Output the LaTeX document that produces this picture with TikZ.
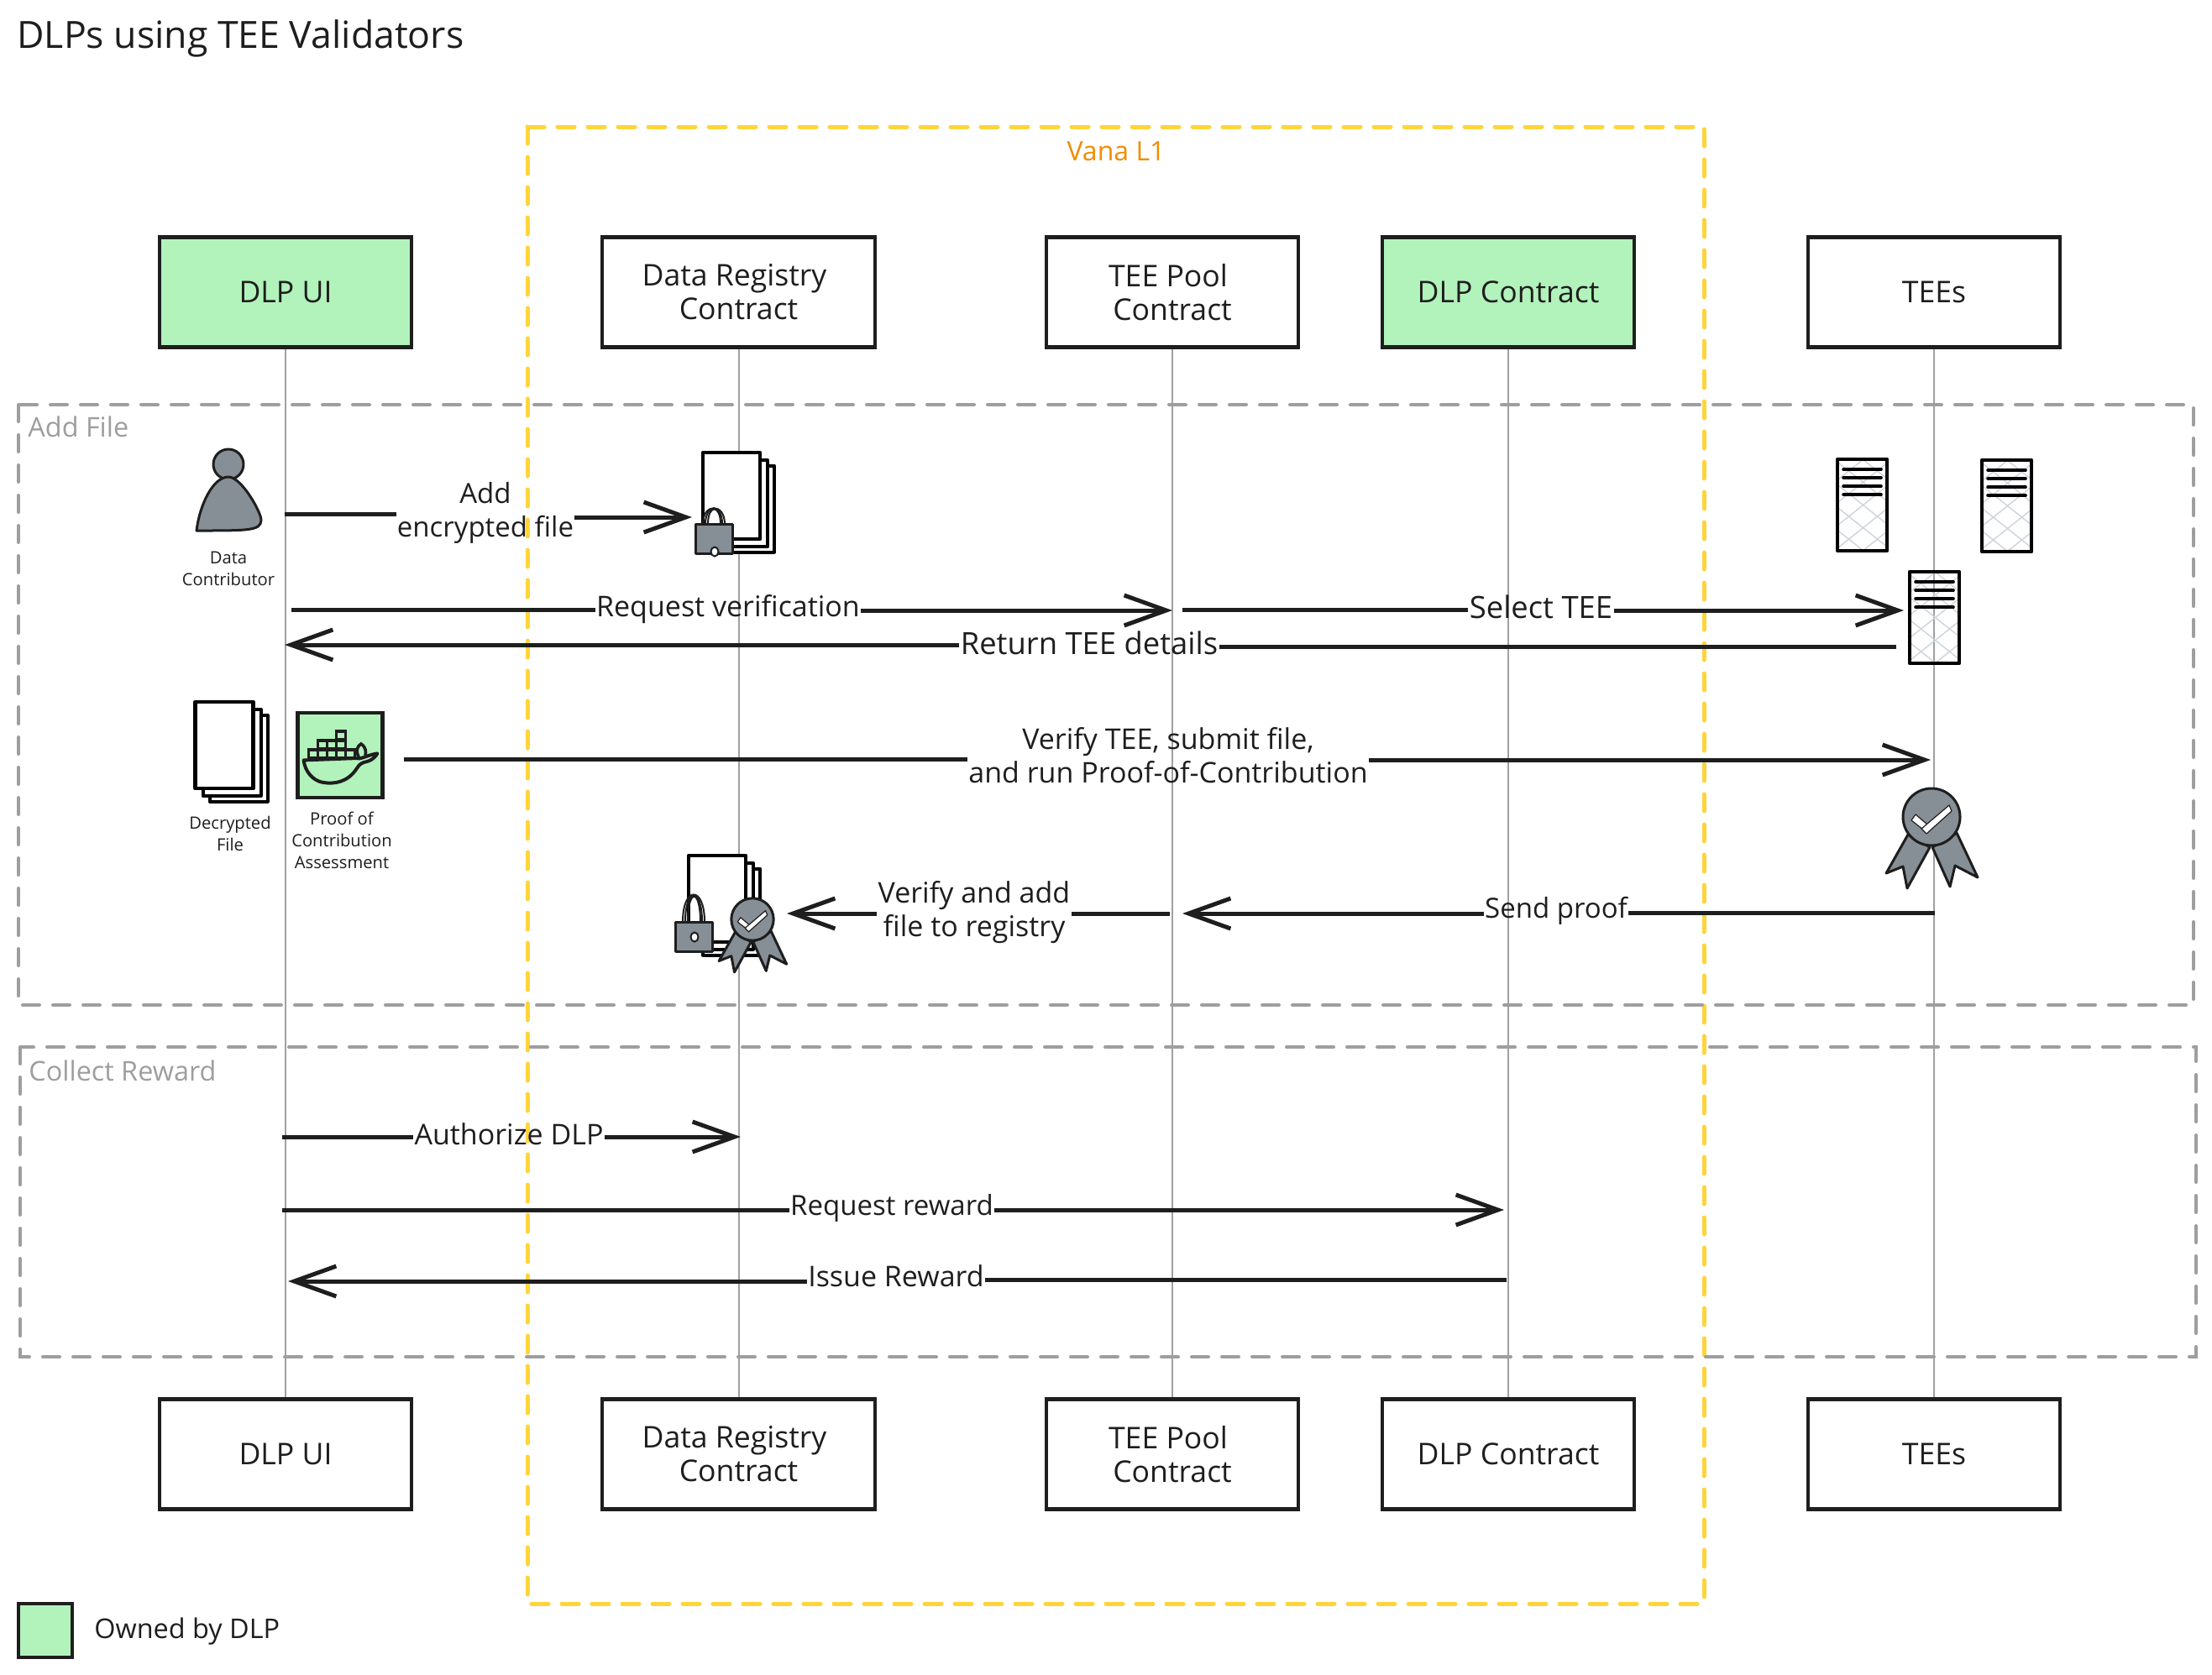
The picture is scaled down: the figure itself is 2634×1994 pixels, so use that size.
\documentclass[tikz,border=0pt]{standalone}
\usepackage{fontspec}
\setmainfont{Open Sans}
\usetikzlibrary{arrows.meta}
\definecolor{ink}{HTML}{1E1E1E}
\definecolor{leaf}{HTML}{B2F2BB}
\definecolor{steel}{HTML}{868E96}
\definecolor{gridgrey}{HTML}{CED4DA}
\definecolor{lifegrey}{HTML}{A0A0A0}
\definecolor{zonegrey}{HTML}{9E9E9E}
\definecolor{vana}{HTML}{FFD43B}
\definecolor{vanatext}{HTML}{F08C00}
\tikzset{
  actor/.style={draw=ink,line width=2.2pt,fill=white,minimum height=65.5pt,inner sep=0pt,align=center,text=ink,font=\fontsize{17.8}{20}\selectfont},
  narrow/.style={actor,minimum width=150pt},
  wide/.style={actor,minimum width=162.5pt},
  owned/.style={fill=leaf},
  lifeline/.style={draw=lifegrey,line width=1pt},
  zone/.style={draw=zonegrey,line width=2pt,dash pattern=on 10pt off 8pt,line cap=round},
  vanazone/.style={draw=vana,line width=2.5pt,dash pattern=on 10pt off 8pt,line cap=round},
  zonelabel/.style={text=zonegrey,inner sep=0pt,font=\fontsize{16.2}{20}\selectfont},
  msglabel/.style={text=ink,inner ysep=0pt,inner xsep=0.5pt,align=center,font=\fontsize{17}{20}\selectfont},
  msglabelsmall/.style={msglabel,font=\fontsize{16.5}{20}\selectfont},
  msglabelwide/.style={msglabel,font=\fontsize{18.2}{20}\selectfont},
  smalllabel/.style={text=ink,inner sep=0pt,align=center,font=\fontsize{10.1}{13}\selectfont},
  msg/.style={draw=ink,line width=2.5pt},
  msgtip/.style={msg,-{Straight Barb[length=25pt,width=18pt]}},
  sheet/.style={draw=black,fill=white,line width=2pt,line join=round},
  iconline/.style={draw=ink,line width=1.5pt,line join=round,fill=steel}
}
\newcommand{\drawstack}[4]{% x y of front top-left, w h
  \begin{scope}[shift={(#1,#2)}]
    \draw[sheet] (17,15.5) rectangle ++(#3,#4);
    \draw[sheet] (9,9) rectangle ++(#3,#4);
    \draw[sheet,line width=2.3pt] (0,0) rectangle ++(#3,#4);
  \end{scope}}
\newcommand{\drawlock}[5]{% x y shackle-height keyhole-x keyhole-y
  \begin{scope}[shift={(#1,#2)}]
    \draw[draw=ink,line width=1pt] (9,0) .. controls (9,-#3*1.4) and (35,-#3*1.4) .. (35,0);
    \draw[draw=ink,line width=1pt] (12,0) .. controls (12,-#3*1.35) and (32,-#3*1.35) .. (32,0);
    \draw[draw=ink,line width=1pt] (15,0) .. controls (15,-#3*1.3) and (30,-#3*1.3) .. (30,0);
    \draw[iconline,fill=steel] (0,0) rectangle (44,35);
    \draw[draw=ink,line width=1pt,fill=white] (#4,#5) circle[x radius=4.5,y radius=5.5];
  \end{scope}}
\newcommand{\drawbadge}[3]{% cx cy scale
  \begin{scope}[shift={(#1,#2)},scale=#3]
    \draw[iconline] (-28,21) -- (-54,67) -- (-34,59) -- (-29,85) -- (-2,36) -- cycle;
    \draw[iconline] (30,19) -- (55,72) -- (28,58) -- (22,83) -- (1,36) -- cycle;
    \draw[iconline] (0,0) circle[radius=34];
    \draw[draw=ink,fill=white,line width=0.6pt,line join=round] (-24,4) -- (-19,-3) -- (-5,9) -- (-10,15) -- cycle;
    \draw[draw=ink,fill=white,line width=0.6pt,line join=round] (-12,14) -- (21,-14) -- (24,-7) -- (-6,20) -- cycle;
  \end{scope}}
\newcommand{\drawserver}[2]{%
  \begin{scope}[shift={(#1,#2)}]
    \begin{scope}
      \clip (0,0) rectangle (59,109);
      \foreach \k in {-140,-106,...,60} {
        \draw[gridgrey,line width=0.7pt] (\k,0) -- ++(137,109);
        \draw[gridgrey,line width=0.7pt] (\k+137,0) -- ++(-137,109);
      }
    \end{scope}
    \foreach \s in {12,22,32,42} {\draw[black,line width=1.8pt,line cap=round] (7,\s) -- (52,\s);}
    \draw[draw=black,line width=2.2pt,line join=round] (0,0) rectangle (59,109);
  \end{scope}}
\begin{document}
\begin{tikzpicture}[x=0.5pt,y=-0.5pt]
\path[use as bounding box,fill=white] (0,0) rectangle (2634,1994);

% title and legend
\node[anchor=west,inner sep=0pt,text=ink,font=\fontsize{22.3}{28}\selectfont] (title) at (20,46) {DLPs using TEE Validators};
\node[draw=ink,line width=2.2pt,fill=leaf,minimum width=32pt,minimum height=32pt,inner sep=0pt] (legendbox) at (54,1942) {};
\node[anchor=west,inner sep=0pt,text=ink,font=\fontsize{16.2}{20}\selectfont] (legendtext) at (112,1943) {Owned by DLP};

% actors
\node[narrow,owned] (uiT) at (340,348) {DLP UI};
\node[wide] (regT) at (879.5,348) {Data Registry\hspace*{5pt}\\Contract};
\node[narrow] (poolT) at (1396,348) {TEE Pool\hspace*{5pt}\\Contract};
\node[narrow,owned] (dlpT) at (1796,348) {DLP Contract};
\node[narrow] (teeT) at (2303,348) {TEEs};
\node[narrow] (uiB) at (340,1732) {DLP UI};
\node[wide] (regB) at (879.5,1732) {Data Registry\hspace*{5pt}\\Contract};
\node[narrow] (poolB) at (1396,1732) {TEE Pool\hspace*{5pt}\\Contract};
\node[narrow] (dlpB) at (1796,1732) {DLP Contract};
\node[narrow] (teeB) at (2303,1732) {TEEs};

% lifelines
\draw[lifeline] (uiT.south) -- (uiB.north);
\draw[lifeline] (regT.south) -- (regB.north);
\draw[lifeline] (poolT.south) -- (poolB.north);
\draw[lifeline] (dlpT.south) -- (dlpB.north);
\draw[lifeline] (teeT.south) -- (teeB.north);

% zones
\draw[vanazone] (628,151) rectangle (2029,1910);
\node[text=vanatext,inner sep=0pt,font=\fontsize{16}{20}\selectfont] (vanalabel) at (1329,180) {Vana L1};
\draw[zone] (22,482) rectangle (2612,1197);
\node[zonelabel,anchor=west] (addlabel) at (33,508) {Add File};
\draw[zone] (24,1247) rectangle (2615,1616);
\node[zonelabel,anchor=west] (collectlabel) at (34,1275) {Collect Reward};

% person
\draw[iconline] (272,553) circle[radius=18];
\draw[iconline] (234,632) .. controls (238,600) and (254,568) .. (272,568) .. controls (288,568) and (312,612) .. (311,620) .. controls (310,632) and (296,632) .. (234,632) -- cycle;
\node[smalllabel] (contrib) at (272,677) {Data\\Contributor};

% encrypted stack + lock
\drawstack{837}{539}{68}{103}
\drawlock{828}{624}{18}{23}{33}

% decrypted stack
\drawstack{232.5}{836}{69}{103}
\node[smalllabel] (decrypted) at (274,993) {Decrypted\\File};

% proof box with docker whale
\node[draw=ink,line width=2.2pt,fill=leaf,minimum width=50.5pt,minimum height=50.5pt,inner sep=0pt] (proofbox) at (405,899.5) {};
\foreach \cx/\cy in {367.5/893,378.5/893,389.5/893,400.5/893,411.5/893,378.5/882,389.5/882,400.5/882,400.5/871}{
  \draw[draw=ink,line width=1.7pt] (\cx,\cy) rectangle ++(11,10);
}
\draw[draw=ink,line width=2pt,line cap=round,line join=round]
  (361.6,905.4) -- (425,903) .. controls (429,905) and (438,899) .. (449.4,897.4)
  .. controls (440,912) and (432,903) .. (425,915)
  .. controls (414,932) and (398,934) .. (385,932)
  .. controls (372,930) and (363,918) .. (361.6,905.4) -- cycle;
\draw[draw=ink,line width=1.8pt,line cap=round] (427,901) .. controls (423,894) and (426,888) .. (430,886) .. controls (436,890) and (436,896) .. (435,899);
\node[smalllabel] (proof) at (407,1001) {Proof of\\Contribution\\Assessment};

% verified stack + lock + badge
\drawstack{820}{1019}{68}{103}
\drawlock{804}{1098}{31}{23}{18}
\drawbadge{896}{1095}{0.74}

% servers
\drawserver{2188}{547}
\drawserver{2360}{548}
\drawserver{2274}{681}
\drawbadge{2300}{973}{1}

% free ends of the messages
\coordinate (m1s) at (339,612);
\coordinate (m1e) at (824,616);
\coordinate (m2s) at (347,726);
\coordinate (m2e) at (1396,727);
\coordinate (m3s) at (1408,726);
\coordinate (m3e) at (2267,727);
\coordinate (m4s) at (2258,770);
\coordinate (m4e) at (339,768);
\coordinate (m5s) at (481,904);
\coordinate (m5e) at (2299,905);
\coordinate (m6s) at (2304,1087);
\coordinate (m6e) at (1408,1088);
\coordinate (m7s) at (1393,1088);
\coordinate (m7e) at (937,1088);
\coordinate (m8s) at (336,1354);
\coordinate (m8e) at (882,1354);
\coordinate (m9s) at (336,1441);
\coordinate (m9e) at (1791,1441);
\coordinate (m10s) at (1794,1524);
\coordinate (m10e) at (343,1526);

% message labels
\node[msglabelsmall] (l1) at (578,611) {Add\\encrypted file};
\node[msglabel] (l2) at (867,726) {Request verification};
\node[msglabelwide] (l3) at (1835,723) {Select TEE};
\node[msglabelwide] (l4) at (1297,766) {Return TEE details};
\node[msglabel] (l5) at (1391,900) {Verify TEE, submit file,\\and run Proof-of-Contribution};
\node[msglabelsmall] (l6) at (1853,1085) {Send proof};
\node[msglabel] (l7) at (1160,1087) {Verify and add\\file to registry};
\node[msglabel] (l8) at (606,1351) {Authorize DLP};
\node[msglabelsmall] (l9) at (1062,1439) {Request reward};
\node[msglabel] (l10) at (1067,1520) {Issue Reward};

% messages
\draw[msg] (m1s) -- (l1.west |- m1s);
\draw[msgtip] (l1.east |- m1e) -- (m1e);
\draw[msg] (m2s) -- (l2.west |- m2s);
\draw[msgtip] (l2.east |- m2e) -- (m2e);
\draw[msg] (m3s) -- (l3.west |- m3s);
\draw[msgtip] (l3.east |- m3e) -- (m3e);
\draw[msg] (m4s) -- (l4.east |- m4s);
\draw[msgtip] (l4.west |- m4e) -- (m4e);
\draw[msg] (m5s) -- (l5.west |- m5s);
\draw[msgtip] (l5.east |- m5e) -- (m5e);
\draw[msg] (m6s) -- (l6.east |- m6s);
\draw[msgtip] (l6.west |- m6e) -- (m6e);
\draw[msg] (m7s) -- (l7.east |- m7s);
\draw[msgtip] (l7.west |- m7e) -- (m7e);
\draw[msg] (m8s) -- (l8.west |- m8s);
\draw[msgtip] (l8.east |- m8e) -- (m8e);
\draw[msg] (m9s) -- (l9.west |- m9s);
\draw[msgtip] (l9.east |- m9e) -- (m9e);
\draw[msg] (m10s) -- (l10.east |- m10s);
\draw[msgtip] (l10.west |- m10e) -- (m10e);
\end{tikzpicture}
\end{document}
